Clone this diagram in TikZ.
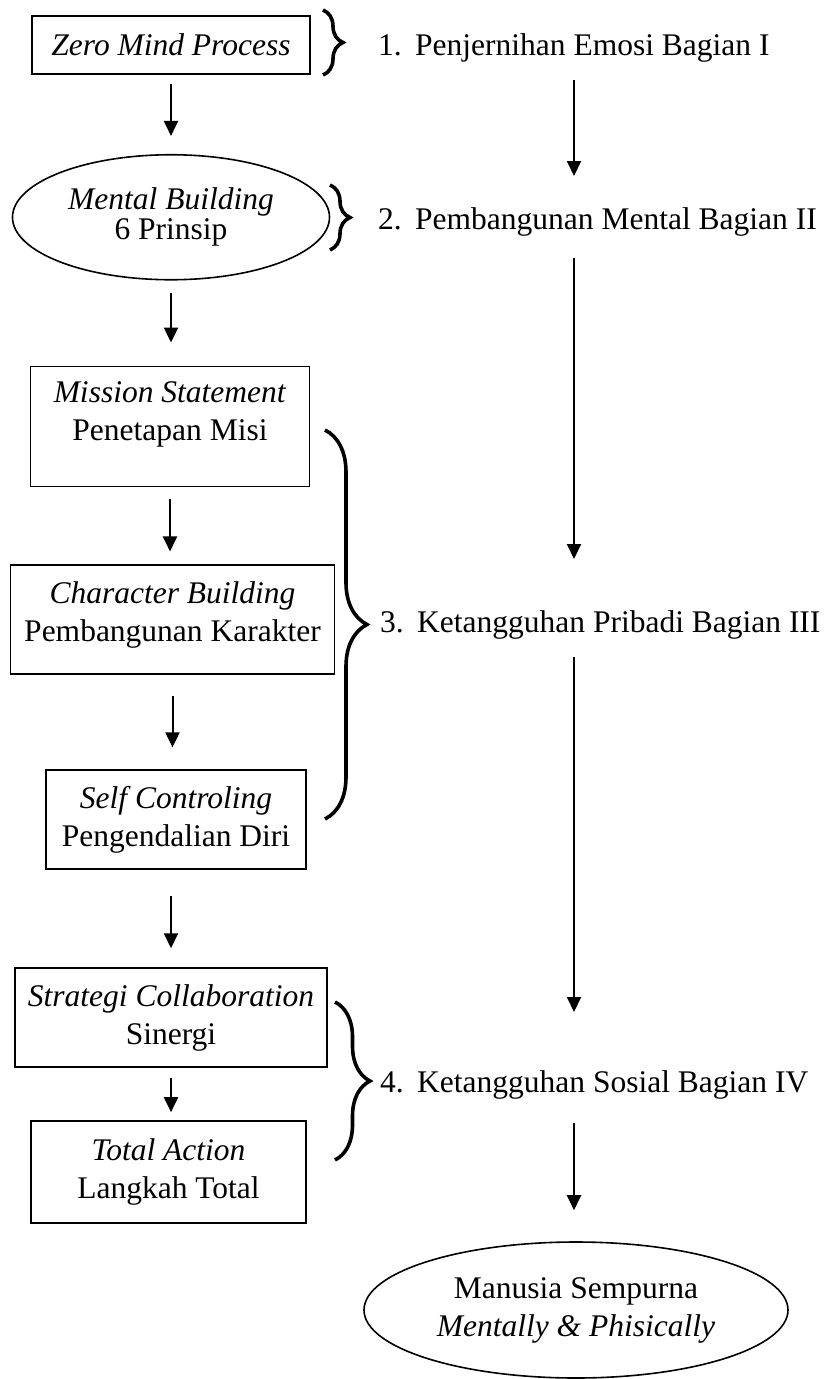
\documentclass[tikz,border=0pt]{standalone}
\usepackage{fontspec}
\setmainfont{Liberation Serif}
\usetikzlibrary{arrows.meta,positioning,shapes.geometric,decorations.pathreplacing}

\tikzset{
  box/.style={draw, line width=1.9pt, align=center, inner sep=0pt},
  oval/.style={ellipse, draw, line width=1.6pt, align=center, inner sep=0pt},
  lbl/.style={anchor=base west, inner sep=0pt},
  flow/.style={-{Triangle[length=15pt,width=14pt]}, line width=2pt},
  brc/.style={decorate, decoration={brace, amplitude=#1}, line width=3.6pt},
}

\begin{document}
\begin{tikzpicture}[x=1pt, y=-1pt, font=\fontsize{31.5}{38}\selectfont]
  \useasboundingbox (0,0) rectangle (830,1379);
  % left column
  \node[box, minimum width=278pt, minimum height=58pt] (zmp) at (171,45) {\textit{Zero Mind Process}};
  \node[oval, minimum width=317pt, minimum height=125pt] (mb) [below=79pt of zmp] {\textit{Mental Building}\\[-8pt] 6 Prinsip};
  \node[box, minimum width=279pt, minimum height=120pt, text depth=30pt] (ms) [below=85pt of mb, xshift=-1pt] {\textit{Mission Statement}\\ Penetapan Misi};
  \node[box, minimum width=324pt, minimum height=109pt, text depth=17pt] (cb) [below=77pt of ms, xshift=2.5pt] {\textit{Character Building}\\ Pembangunan Karakter};
  \node[box, minimum width=260pt, minimum height=99pt] (sc) [below=94pt of cb, xshift=3.5pt] {\textit{Self Controling}\\ Pengendalian Diri};
  \node[box, minimum width=312pt, minimum height=99pt] (sk) [below=97pt of sc, xshift=-5pt] {\textit{Strategi Collaboration}\\ Sinergi};
  \node[box, minimum width=275pt, minimum height=102pt] (ta) [below=52pt of sk, xshift=-2.5pt] {\textit{Total Action}\\ Langkah Total};

  % right column
  \coordinate (col) at (574,0);
  \node[lbl] (l1) at (378,55) {\makebox[37pt][l]{1.}Penjernihan Emosi Bagian I};
  \node[lbl] (l2) at (378,229) {\makebox[37pt][l]{2.}Pembangunan Mental Bagian II};
  \node[lbl] (l3) at (380,632) {\makebox[37pt][l]{3.}Ketangguhan Pribadi Bagian III};
  \node[lbl] (l4) at (380,1092) {\makebox[37pt][l]{4.}Ketangguhan Sosial Bagian IV};
  \node[oval, minimum width=424pt, minimum height=136pt] (mp) at (576,1310) {Manusia Sempurna\\ \textit{Mentally \& Phisically}};

  % arrows
  \draw[flow, shorten <=9pt, shorten >=18pt] (zmp.south) -- (zmp.south |- mb.north);
  \draw[flow, shorten <=12pt, shorten >=23pt] (mb.south) -- (mb.south |- ms.north);
  \draw[flow, shorten <=12pt, shorten >=13pt] (ms.south) -- (ms.south |- cb.north);
  \draw[flow, shorten <=21pt, shorten >=22pt] (cb.south) -- (cb.south |- sc.north);
  \draw[flow, shorten <=26pt, shorten >=19pt] (sk.north |- sc.south) -- (sk.north);
  \draw[flow, shorten <=10pt, shorten >=8pt] (sk.south) -- (sk.south |- ta.north);
  \draw[flow, shorten <=25pt, shorten >=53pt] (l1.base -| col) -- (l2.base -| col);
  \draw[flow, shorten <=29pt, shorten >=73pt] (l2.base -| col) -- (l3.base -| col);
  \draw[flow, shorten <=25pt, shorten >=80pt] (l3.base -| col) -- (l4.base -| col);
  \draw[flow, shorten <=31pt, shorten >=31pt] (l4.base -| col) -- (mp.north -| col);

  % braces
  \draw[brc=20pt] (323,10) -- (323,75);
  \draw[brc=20pt] (330,185) -- (330,250);
  \draw[brc=42pt] (325,430) -- (325,819);
  \draw[brc=35pt] (335,1002) -- (335,1160);
\end{tikzpicture}
\end{document}
